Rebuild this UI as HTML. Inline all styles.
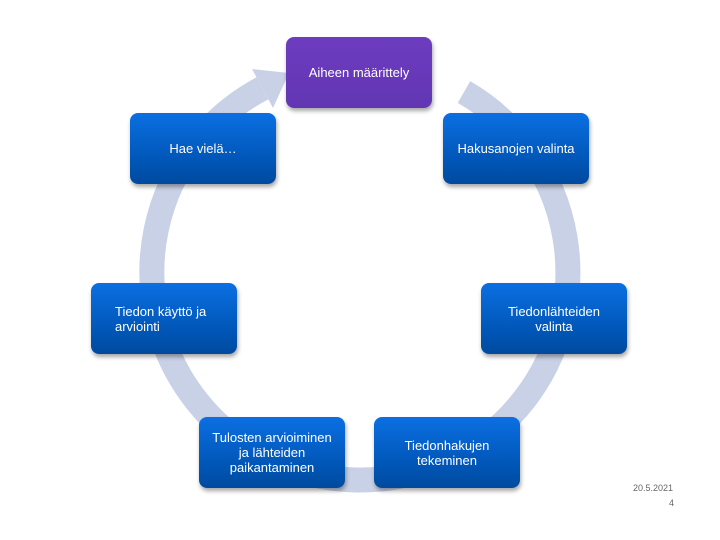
<!DOCTYPE html>
<html><head><meta charset="utf-8"><style>
body{margin:0;width:720px;height:540px;background:#fff;position:relative;overflow:hidden;font-family:"Liberation Sans",Arial,sans-serif}
.b{position:absolute;width:146px;height:71px;border-radius:8px;background:linear-gradient(#0b6fe2,#0055b5 70%,#004a9e);color:#fff;font-size:13px;line-height:15px;display:flex;align-items:center;justify-content:center;text-align:center;box-shadow:1px 3px 4px rgba(0,0,0,.35);box-sizing:border-box;padding:0 8px}
.p{background:linear-gradient(#6d3cc0,#6236b3)}
.f{position:absolute;font-size:9px;color:#666}
</style></head><body>
<svg width="720" height="540" style="position:absolute;left:0;top:0">
<path d="M464 92 A208 208 0 1 1 262.4 88.3" fill="none" stroke="#c9d1e6" stroke-width="25"/>
<polygon points="252,69 289,73 273,108" fill="#c9d1e6"/>
</svg>
<div class="b p" style="left:286px;top:37px">Aiheen määrittely</div>
<div class="b" style="left:443px;top:113px">Hakusanojen valinta</div>
<div class="b" style="left:481px;top:283px">Tiedonlähteiden valinta</div>
<div class="b" style="left:374px;top:417px">Tiedonhakujen tekeminen</div>
<div class="b" style="left:199px;top:417px">Tulosten arvioiminen ja lähteiden paikantaminen</div>
<div class="b" style="left:91px;top:283px;justify-content:flex-start;text-align:left;padding-left:24px">Tiedon käyttö ja arviointi</div>
<div class="b" style="left:130px;top:113px">Hae vielä…</div>
<div class="f" style="left:633px;top:483px">20.5.2021</div>
<div class="f" style="left:669px;top:498px">4</div>
</body></html>
